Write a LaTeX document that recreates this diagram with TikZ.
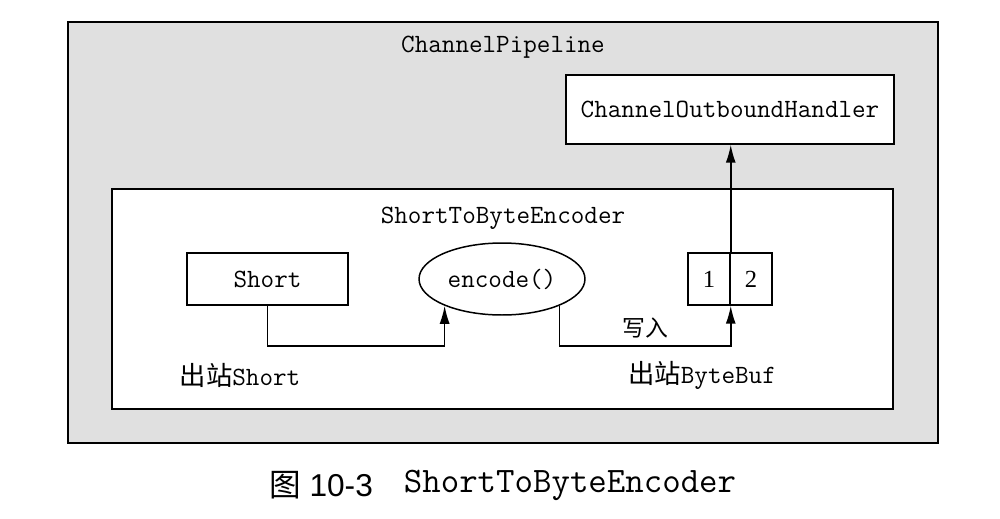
\documentclass[tikz,border=0pt]{standalone}
\usepackage{fontspec}
\setmainfont{Liberation Serif}
\setsansfont{Liberation Sans}
\newfontfamily\cjk{Noto Sans CJK SC}
\usetikzlibrary{shapes.geometric,arrows.meta,calc,positioning}
\definecolor{pipegray}{rgb}{0.88,0.88,0.88}

\begin{document}
\begin{tikzpicture}[x=0.02cm,y=-0.02cm,line width=0.85pt,
    >={Latex[length=3.6mm,width=2mm]},
    box/.style={rectangle,draw,inner sep=0pt},
    lbl/.style={font=\ttfamily\fontsize{15}{17}\selectfont,inner sep=1pt}]
        \useasboundingbox (0,0) rectangle (1000,518);
        %%%%%%%%%%%%%%%%%%%%%%%%%%%pipeline%%%%%%%%%%%%%%%%%%%%%%
          \draw[fill=pipegray,line width=0.6pt] (68,22) rectangle (938,443);
          \node[lbl] (pipe) at (503,47) {ChannelPipeline};
          \node[box,fill=white,minimum width=6.56cm,minimum height=1.38cm,lbl]
            (handler) at (730,109.5) {ChannelOutboundHandler};

        %%%%%%%%%%%%%%%%%%%%%%%%%%%encoder%%%%%%%%%%%%%%%%%%%%%%
          \draw[fill=white,line width=0.6pt] (112,189) rectangle (893,409);
          \node[lbl] (enctitle) at (503,218) {ShortToByteEncoder};
          \node[box,minimum width=3.22cm,minimum height=1.04cm,lbl]
            (short) at (267.5,279) {Short};
          \node[ellipse,draw,minimum width=3.32cm,minimum height=1.44cm,
            inner sep=0pt,lbl] (enc) at (502,279) {encode()};
          \node[box,minimum width=0.84cm,minimum height=1.04cm,
            font=\fontsize{14}{16}\selectfont] (b1) at (709,279) {1};
          \node[box,minimum width=0.84cm,minimum height=1.04cm,
            font=\fontsize{14}{16}\selectfont] (b2) at (751,279) {2};
          \coordinate (low) at (502,346);

          \draw[->] (short.south) -- (short.south |- low) -| (enc.205);
          \draw[->] (enc.335) -- (enc.335 |- low) -| 
            node[pos=0.25,above,inner sep=4pt,font=\cjk\fontsize{13}{15}\selectfont]{写入}
            (b1.south east);
          \draw[->] (b1.north east) -- (b1.north east |- handler.south);

          \node[lbl] (outshort) at (240,375) {{\cjk 出站}Short};
          \node[lbl] (outbuf) at (702,375) {{\cjk 出站}ByteBuf};

        %%%%%%%%%%%%%%%%%%%%%%%%%%%caption%%%%%%%%%%%%%%%%%%%%%%
          \node[font=\sffamily\fontsize{18}{20}\selectfont] (capfig) at (321,485)
            {{\cjk 图} 10-3};
          \node[font=\ttfamily\fontsize{20.4}{22}\selectfont] (capname) at (570,485)
            {ShortToByteEncoder};
        \end{tikzpicture}
\end{document}
